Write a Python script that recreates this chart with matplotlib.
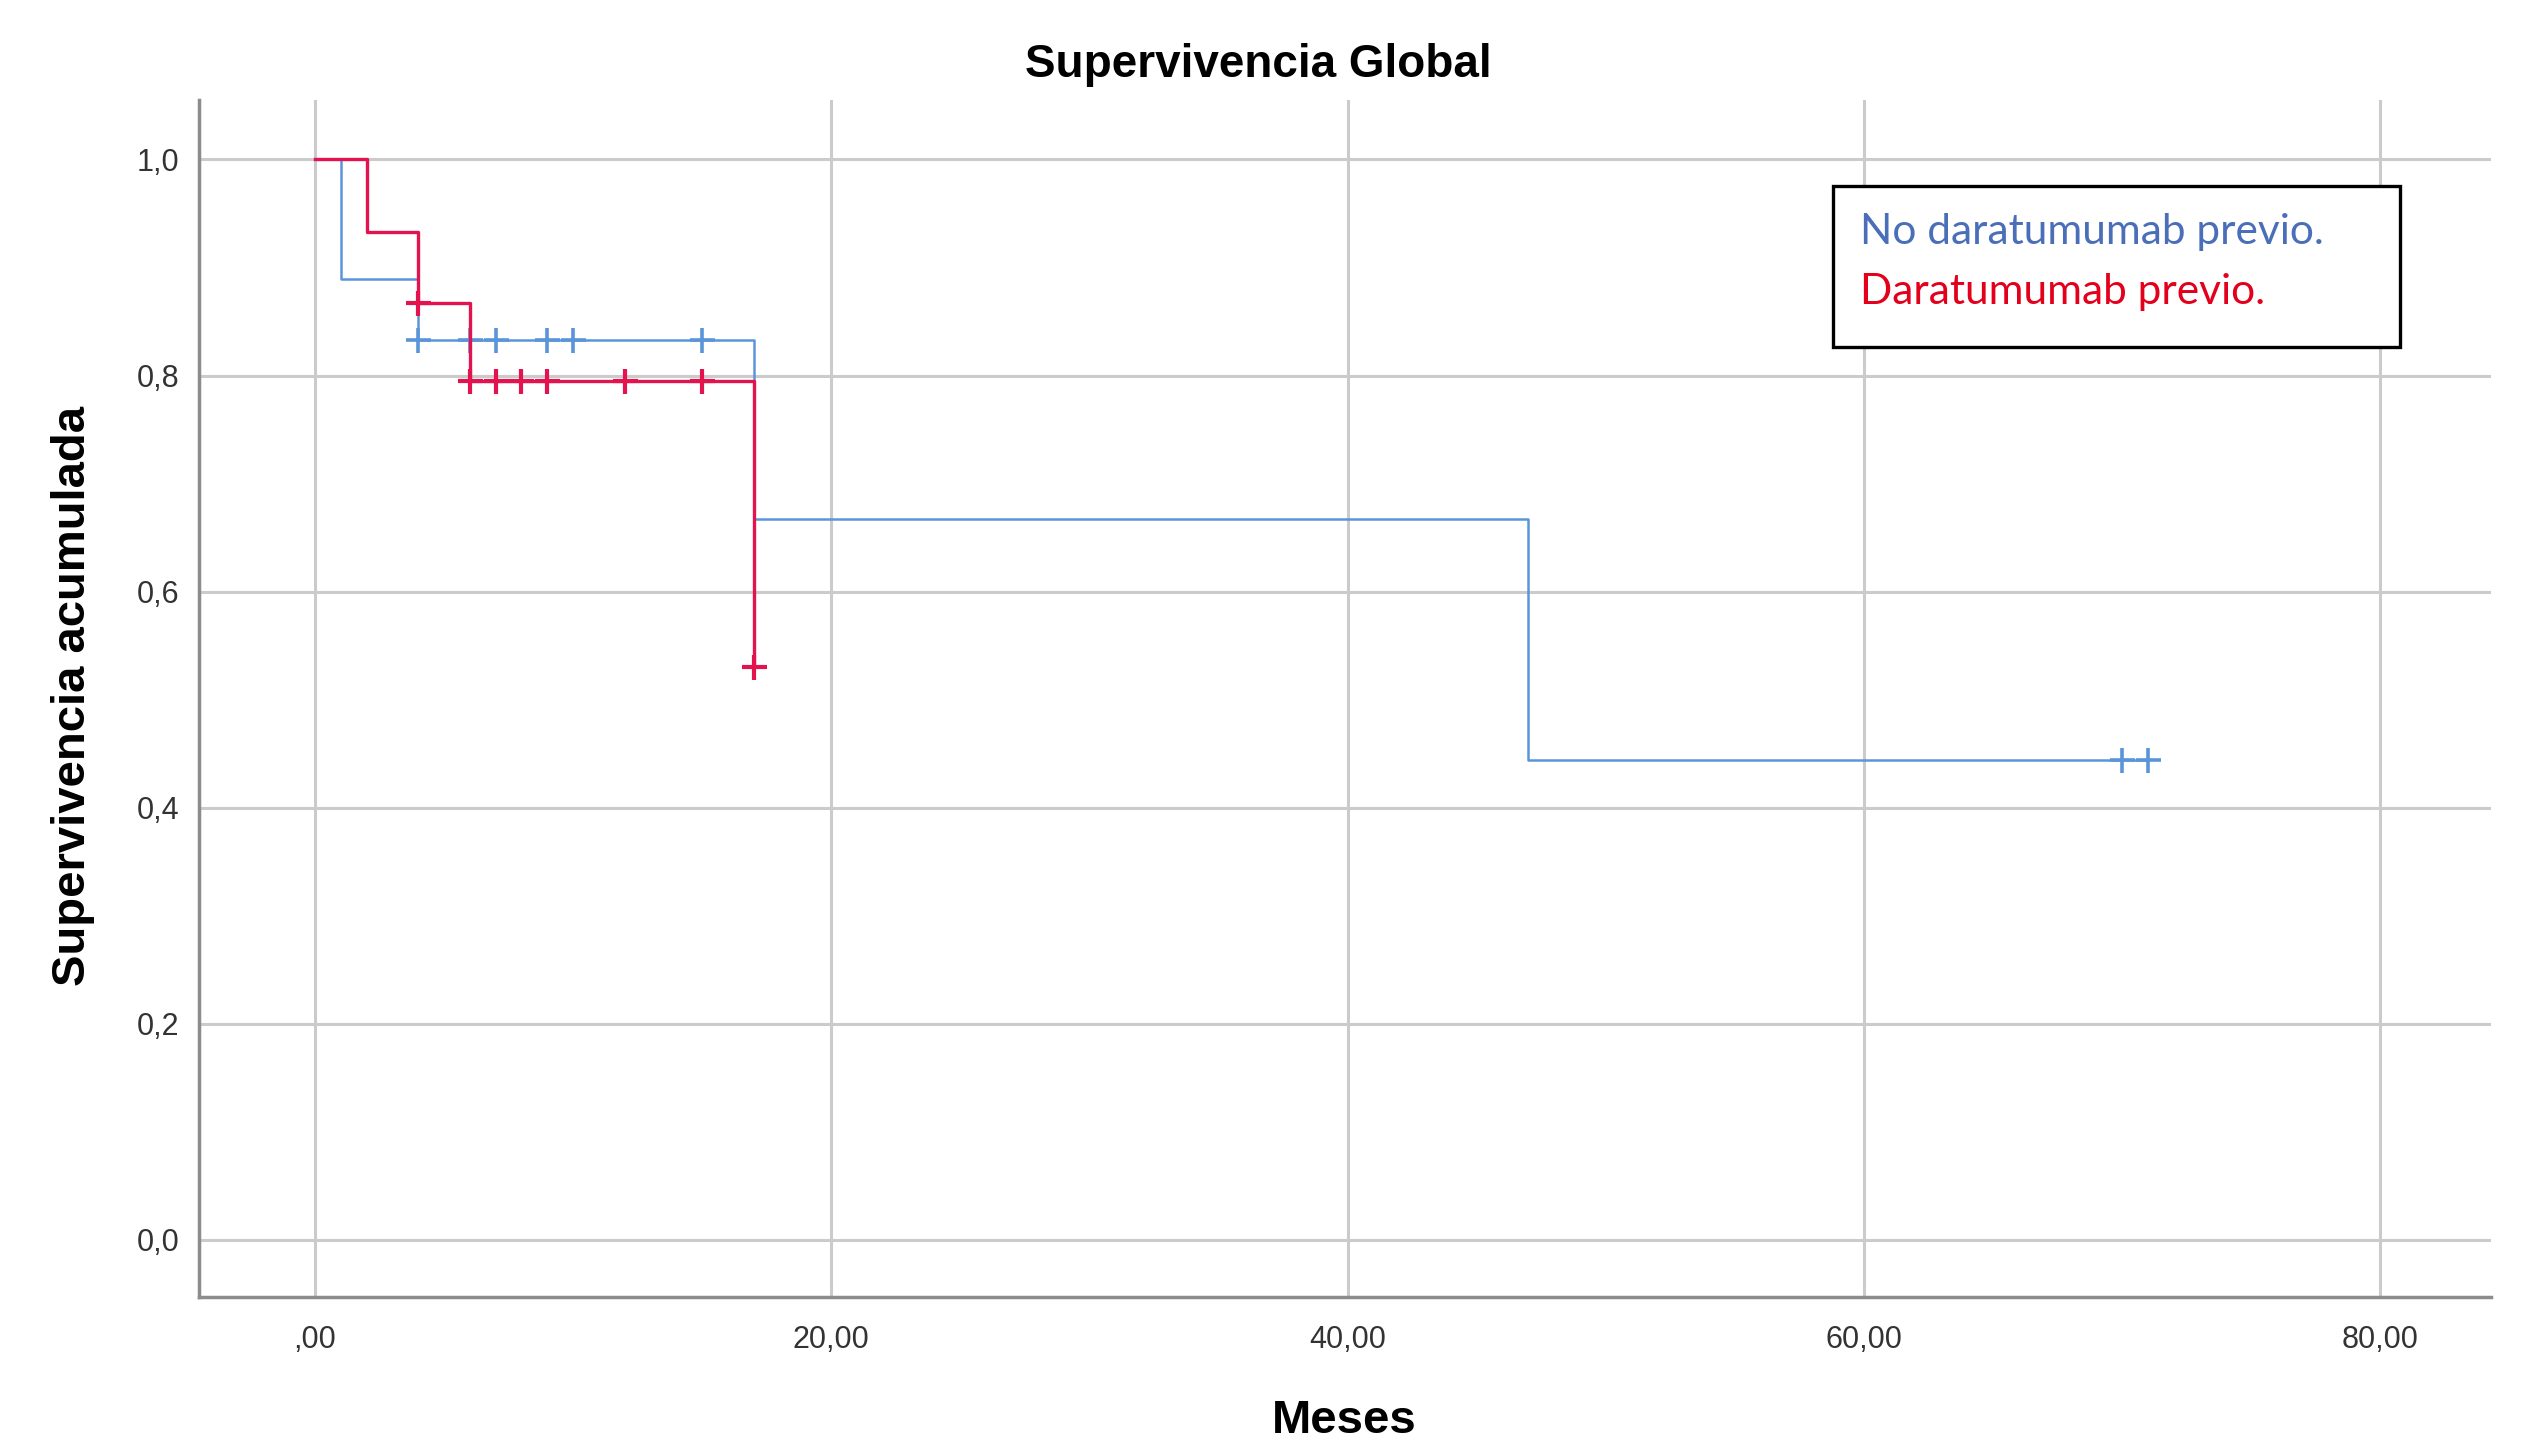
import numpy as np
import matplotlib
matplotlib.use("Agg")
import matplotlib.pyplot as plt
from matplotlib.patches import Rectangle

# Kaplan-Meier steps
no_dara_t = [0, 1, 4, 17, 47, 71]
no_dara_s = [1.0, 0.889, 0.833, 0.667, 0.444, 0.444]
no_dara_cens = [4, 6, 7, 9, 10, 15, 70, 71]

dara_t = [0, 2, 4, 6, 17]
dara_s = [1.0, 0.933, 0.867, 0.795, 0.53]
dara_cens = [4, 6, 7, 8, 9, 12, 15, 17]

x_ticks = [0, 20, 40, 60, 80]
x_labels = [",00", "20,00", "40,00", "60,00", "80,00"]
y_ticks = [0.0, 0.2, 0.4, 0.6, 0.8, 1.0]
y_labels = ["0,0", "0,2", "0,4", "0,6", "0,8", "1,0"]

blue = "#5b95d9"
red = "#e3134f"


def surv_at(times, surv, t):
    idx = np.searchsorted(times, t, side="right") - 1
    return np.array(surv)[idx]


plt.rcParams["font.family"] = ["Liberation Sans", "DejaVu Sans"]

fig = plt.figure(figsize=(25.32, 14.5), dpi=100)
ax = fig.add_axes([0.0785, 0.1055, 0.9055, 0.8255])

ax.step(no_dara_t, no_dara_s, where="post", color=blue, lw=1.8, zorder=3)
ax.plot(no_dara_cens, surv_at(no_dara_t, no_dara_s, no_dara_cens), "+",
        color=blue, ms=18, mew=2.6, zorder=3)

ax.step(dara_t, dara_s, where="post", color=red, lw=2.4, zorder=4)
ax.plot(dara_cens, surv_at(dara_t, dara_s, dara_cens), "+",
        color=red, ms=18, mew=3.0, zorder=4)

ax.set_xlim(-4.5, 84.3)
ax.set_ylim(-0.053, 1.055)
ax.set_xticks(x_ticks)
ax.set_xticklabels(x_labels)
ax.set_yticks(y_ticks)
ax.set_yticklabels(y_labels)
ax.tick_params(length=0, labelsize=22, colors="#333333")
ax.tick_params(axis="x", pad=20)
ax.tick_params(axis="y", pad=14)
ax.grid(True, color="#cbcbcb", lw=2.2)
ax.set_axisbelow(True)
for side in ["top", "right"]:
    ax.spines[side].set_visible(False)
for side in ["left", "bottom"]:
    ax.spines[side].set_color("#8c8c8c")
    ax.spines[side].set_linewidth(2.5)

fig.text(0.497, 0.955, "Supervivencia Global", ha="center", va="center",
         fontsize=33, fontweight="bold")
fig.text(0.531, 0.02, "Meses", ha="center", va="center",
         fontsize=34, fontweight="bold")
fig.text(0.0287, 0.52, "Supervivencia acumulada", ha="center", va="center",
         rotation=90, fontsize=34, fontweight="bold")

# annotation box in the upper right
fig.patches.append(Rectangle((0.724, 0.761), 0.224, 0.111, transform=fig.transFigure,
                             fill=True, facecolor="white", edgecolor="black",
                             lw=2.4, zorder=5))
fig.text(0.7346, 0.8397, "No daratumumab previo.", ha="left", va="center",
         fontsize=30.5, color="#4a6fb8", family=["Lato", "DejaVu Sans"], zorder=6)
fig.text(0.7346, 0.7984, "Daratumumab previo.", ha="left", va="center",
         fontsize=30.5, color="#e3001b", family=["Lato", "DejaVu Sans"], zorder=6)

fig.savefig("out.png", dpi=100)
